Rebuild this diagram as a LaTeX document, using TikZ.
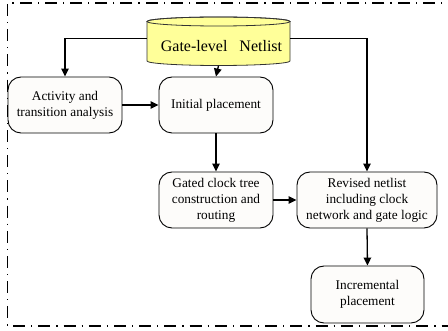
\documentclass[tikz,border=0pt]{standalone}
\usepackage{fontspec}
\setmainfont{Liberation Serif}
\usetikzlibrary{arrows.meta}
\definecolor{boxfill}{HTML}{FDFCFA}
\definecolor{cylfill}{HTML}{FFFF99}
\begin{document}
\begin{tikzpicture}[x=1pt,y=-1pt,
  box/.style={draw, line width=0.9pt, rounded corners=13pt, fill=boxfill,
    align=center, font=\fontsize{13.3}{16}\selectfont, inner sep=0pt},
  arr/.style={line width=1.3pt, -{Triangle[length=8pt,width=7.5pt]}},
  frame/.style={line width=1.2pt, dash pattern=on 12pt off 6pt on 1.2pt off 6pt},
  cyl/.style={minimum width=143pt, minimum height=48.5pt, inner sep=0pt,
    text height=20pt, text depth=0pt, font=\fontsize{16}{19}\selectfont}]
\useasboundingbox (0,0) rectangle (448,331);
\draw[frame] (460,3) -- (7.5,3) -- (7.5,326) -- (460,326);

% cylinder body
\draw[fill=cylfill, draw=black!80, line width=0.8pt]
  (147,21.5) -- (147,61) arc[start angle=180,end angle=360,x radius=71.5pt,y radius=4.5pt]
  -- (290,21.5) arc[start angle=0,end angle=180,x radius=71.5pt,y radius=4.5pt] -- cycle;
\draw[draw=black!80, line width=0.8pt] (218.5,21.5) ellipse[x radius=71.5pt, y radius=4.5pt];
\node[cyl] (net) at (218.5,41.25) {\hspace{6pt}Gate-level\hspace{12pt}Netlist};

\node[box, minimum width=114pt, minimum height=56pt] (act) at (65,105) {Activity and\\transition analysis};
\node[box, minimum width=114pt, minimum height=56pt] (init) at (216,105) {Initial placement};
\node[box, minimum width=114pt, minimum height=56pt] (gated) at (216,200) {Gated clock tree\\construction and\\routing};
\node[box, minimum width=140pt, minimum height=56pt] (rev) at (367,200) {Revised netlist\\including clock\\network and gate logic};
\node[box, minimum width=113pt, minimum height=57pt] (inc) at (367.5,294.5) {Incremental\\placement};

\draw[arr] ([yshift=2.5pt]net.west) -| (act.north);
\draw[arr] (net.south) -- (init.north);
\draw[arr] ([yshift=2.5pt]net.east) -| (rev.north);
\draw[arr] (act.east) -- (init.west);
\draw[arr] (init.south) -- (gated.north);
\draw[arr] (gated.east) -- (rev.west);
\draw[arr] (rev.south) -- (inc.north);
\end{tikzpicture}
\end{document}
